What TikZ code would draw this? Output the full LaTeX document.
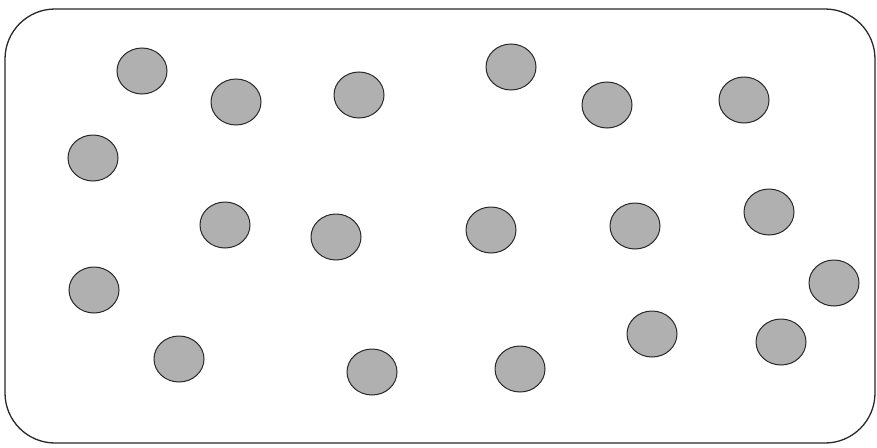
\documentclass[tikz,border=0pt]{standalone}
\usetikzlibrary{shapes.geometric}
\definecolor{dotfill}{RGB}{176,176,176}
\definecolor{edge}{RGB}{40,40,40}
\begin{document}
\begin{tikzpicture}[x=1pt,y=-1pt,
  dot/.style={ellipse,draw=edge,fill=dotfill,line width=1pt,minimum width=50pt,minimum height=46pt,inner sep=0pt},
  frame/.style={draw=edge,line width=1.3pt,rounded corners=50pt}]
\useasboundingbox (0,0) rectangle (877,447);
\fill[white] (0,0) rectangle (877,447);
\draw[frame] (5,9) rectangle (875,443);
\node[dot] (c1) at (142,71) {};
\node[dot] (c2) at (236,102) {};
\node[dot] (c3) at (359,95) {};
\node[dot] (c4) at (511,67) {};
\node[dot] (c5) at (607,105) {};
\node[dot] (c6) at (744,100) {};
\node[dot] (c7) at (93,158) {};
\node[dot] (c8) at (225,225) {};
\node[dot] (c9) at (336,237) {};
\node[dot] (c10) at (491,230) {};
\node[dot] (c11) at (635,226) {};
\node[dot] (c12) at (769,212) {};
\node[dot] (c13) at (94,290) {};
\node[dot] (c14) at (834,283) {};
\node[dot] (c15) at (179,359) {};
\node[dot] (c16) at (372,372) {};
\node[dot] (c17) at (520,369) {};
\node[dot] (c18) at (652,334) {};
\node[dot] (c19) at (781,342) {};
\end{tikzpicture}
\end{document}
